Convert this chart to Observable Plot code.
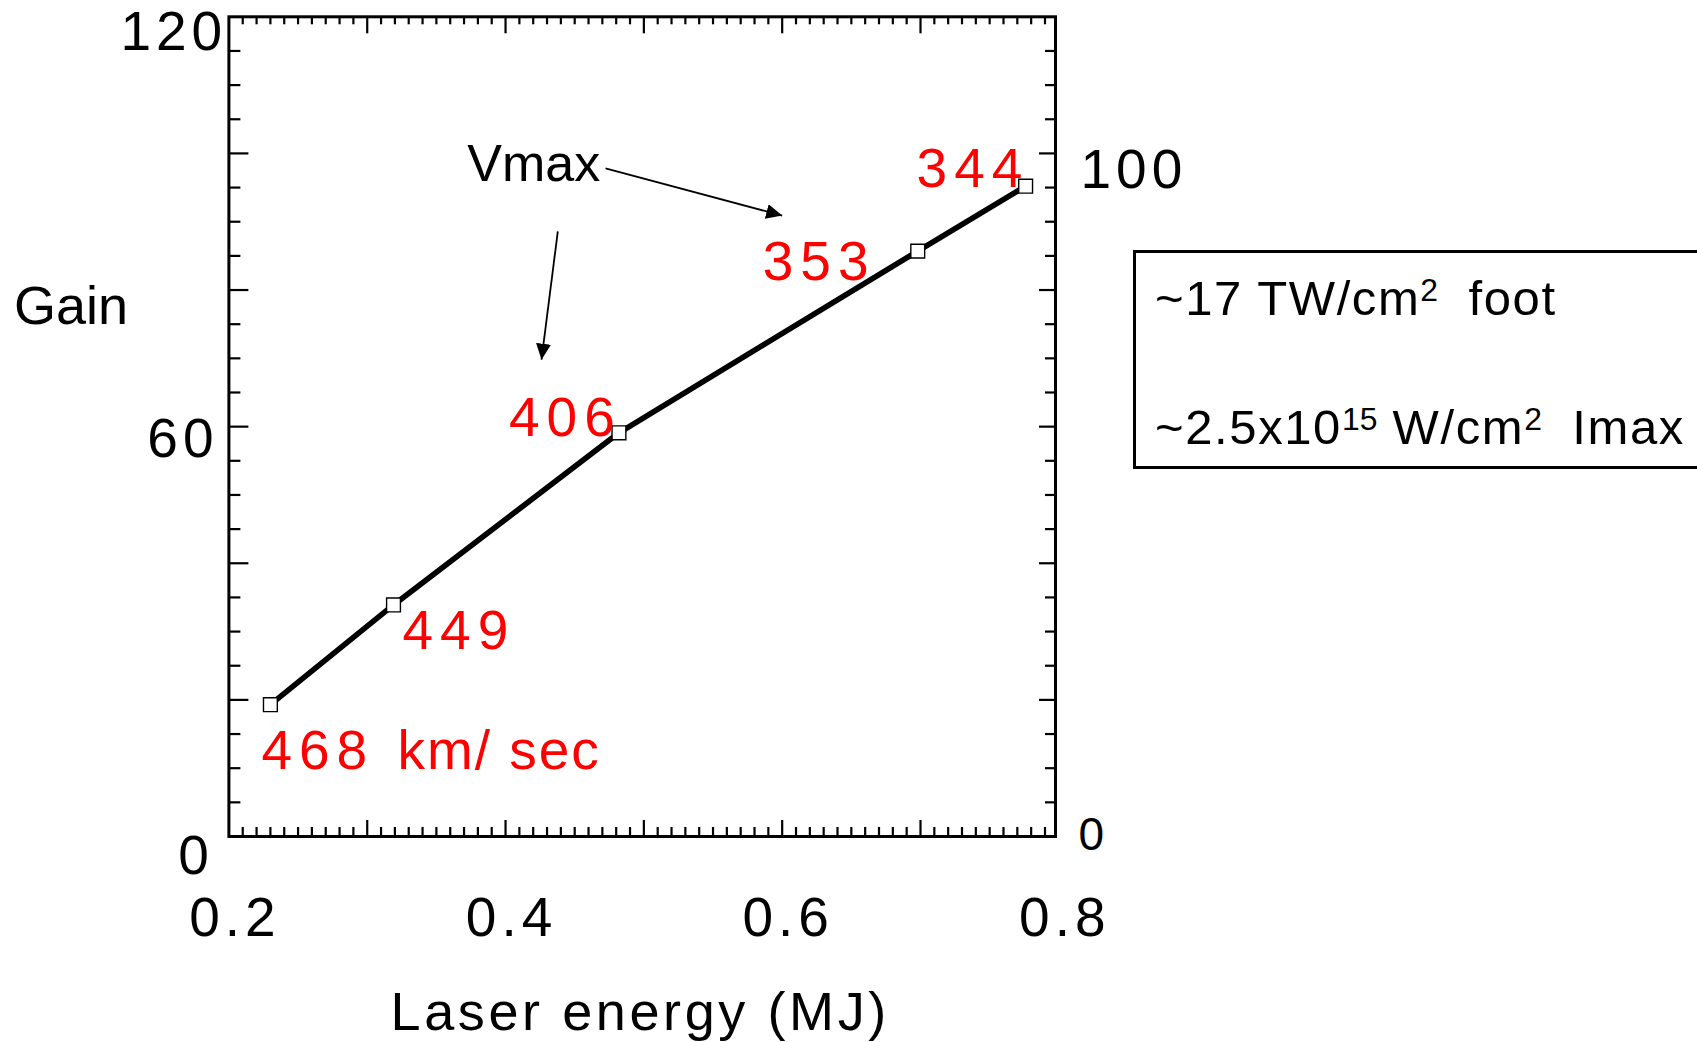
<!DOCTYPE html>
<html>
<head>
<meta charset="utf-8">
<script src="https://cdn.jsdelivr.net/npm/d3@7"></script>
<script src="https://cdn.jsdelivr.net/npm/@observablehq/plot@0.6"></script>
<style>
  html, body { margin: 0; padding: 0; background: #fff; overflow: hidden; }
  #wrap { position: relative; width: 1697px; height: 1042px; }
  #note {
    position: absolute; left: 1133px; top: 250px; width: 700px; height: 213px;
    border: 3px solid #000; background: transparent;
    font-family: 'Liberation Sans', Arial, Helvetica, sans-serif; color: #000;
  }
  #note .row { position: absolute; left: 19px; white-space: nowrap; font-size: 49px; line-height: 49px; letter-spacing: 1.6px; }
  #note .sup { font-size: 0.65em; vertical-align: 0.45em; letter-spacing: 0; }
</style>
</head>
<body>
<div id="wrap"></div>
<script>
// Gain vs. laser energy; each point is tagged with its peak implosion velocity
const energy = [0.23, 0.319, 0.482, 0.698, 0.776];   // MJ
const gain = [19.3, 33.9, 59.1, 85.7, 95.2];
const vmax = [468, 449, 406, 353, 344];               // km/s
const unitLabel = "km/ sec";

// axis labelling
const xTickLabels = [0.2, 0.4, 0.6, 0.8];
const xMajorTicks = [0.3, 0.4, 0.5, 0.6, 0.7];
const xMinorTicks = d3.range(21, 80).filter(i => i % 10 !== 0).map(i => i / 100);
const yMajorTicks = [20, 40, 60, 80, 100];
const yMinorTicks = d3.range(5, 120, 5).filter(v => v % 20 !== 0);
const xTitle = "Laser energy (MJ)";
const yTitle = "Gain";

// "Vmax" callout: text anchor and the two arrows (energy, gain units)
const calloutText = "Vmax";
const calloutAt = {energy: 0.3723, gain: 96.0};
const calloutArrows = [
  {x1: 0.4723, y1: 97.8, x2: 0.600, y2: 90.9},
  {x1: 0.4378, y1: 88.6, x2: 0.426, y2: 69.8}
];

const W = 1697, H = 1042;
const mL = 228.4, mR = 642, mT = 16.3, mB = 206;
const fw = W - mL - mR, fh = H - mT - mB;
const font = "'Liberation Sans', Arial, Helvetica, sans-serif";
const red = "#ff0000";

const points = energy.map((e, i) => ({energy: e, gain: gain[i], v: vmax[i]}));

const tickStyle = {stroke: "black", strokeWidth: 2.2};

// per-point placement of the velocity labels (pixels from the marker)
const labelOffsets = [[-9, 64], [9, 44], [-110, 3], [-155, 29], [-109, 1]];

const velocityLabels = points.map((p, i) => Plot.text([p], {
  x: "energy", y: "gain", text: d => String(d.v),
  dx: labelOffsets[i][0], dy: labelOffsets[i][1],
  textAnchor: "start", lineAnchor: "bottom",
  fill: red, fontSize: 55, ariaDescription: "ls7"
}));

const leftLabels = [[120, -1.7, 32.7], [60, -10.4, 30.8], [0, -15.1, 37.3]].map(([v, dx, dy]) =>
  Plot.text([v], {y: d => d, frameAnchor: "left", textAnchor: "end", lineAnchor: "bottom",
    text: d => String(d), dx, dy, fontSize: 55, fill: "black", ariaDescription: "ls5"}));

const chart = Plot.plot({
  width: W, height: H,
  marginLeft: mL, marginRight: mR, marginTop: mT, marginBottom: mB,
  x: {domain: [0.2, 0.7976], axis: null},
  y: {domain: [0, 120], axis: null},
  style: {fontFamily: font, background: "white", overflow: "visible"},
  marks: [
    // inward ticks on all four sides
    Plot.tickX(xMinorTicks, {x: d => d, insetTop: fh - 9, ...tickStyle}),
    Plot.tickX(xMajorTicks, {x: d => d, insetTop: fh - 16, ...tickStyle}),
    Plot.tickX(xMinorTicks, {x: d => d, insetBottom: fh - 8, ...tickStyle}),
    Plot.tickX(xMajorTicks, {x: d => d, insetBottom: fh - 17, ...tickStyle}),
    Plot.tickY(yMinorTicks, {y: d => d, insetRight: fw - 12, ...tickStyle}),
    Plot.tickY(yMajorTicks, {y: d => d, insetRight: fw - 20, ...tickStyle}),
    Plot.tickY(yMinorTicks, {y: d => d, insetLeft: fw - 10, ...tickStyle}),
    Plot.tickY(yMajorTicks, {y: d => d, insetLeft: fw - 16, ...tickStyle}),
    Plot.frame({stroke: "black", strokeWidth: 3}),

    // gain curve
    Plot.line(points, {x: "energy", y: "gain", stroke: "black", strokeWidth: 5.6}),
    Plot.dot(points, {x: "energy", y: "gain", symbol: "square", r: 7.8,
      fill: "white", stroke: "black", strokeWidth: 1.4}),

    // velocity annotations
    ...velocityLabels,
    Plot.text([points[0]], {x: "energy", y: "gain", text: () => unitLabel, dx: 127, dy: 64,
      textAnchor: "start", lineAnchor: "bottom", fill: red, fontSize: 55, ariaDescription: "ls2"}),

    // Vmax callout
    Plot.text([calloutAt], {x: "energy", y: "gain", text: () => calloutText,
      textAnchor: "start", lineAnchor: "bottom", fontSize: 52, fill: "black"}),
    Plot.link(calloutArrows, {x1: "x1", y1: "y1", x2: "x2", y2: "y2",
      stroke: "black", strokeWidth: 1.8, ariaDescription: "vmax-arrow"}),

    // tick labels
    Plot.text(xTickLabels, {x: d => d, frameAnchor: "bottom", text: d => d.toFixed(1),
      textAnchor: "middle", lineAnchor: "bottom", dx: 6, dy: 99, fontSize: 55,
      fill: "black", ariaDescription: "ls5"}),
    ...leftLabels,
    Plot.text([100], {y: d => d, frameAnchor: "right", text: d => String(d),
      textAnchor: "start", lineAnchor: "bottom", dx: 25, dy: 35, fontSize: 55,
      fill: "black", ariaDescription: "ls5"}),
    Plot.text([0], {y: d => d, frameAnchor: "right", text: d => String(d),
      textAnchor: "start", lineAnchor: "bottom", dx: 23, dy: 13, fontSize: 46, fill: "black"}),

    // axis titles
    Plot.text([yTitle], {frameAnchor: "top-left", text: d => d, textAnchor: "start",
      lineAnchor: "bottom", dx: -215, dy: 307, fontSize: 54, fill: "black"}),
    Plot.text([xTitle], {frameAnchor: "bottom", text: d => d, textAnchor: "middle",
      lineAnchor: "bottom", dx: -2, dy: 193, fontSize: 54, fill: "black", ariaDescription: "ls35"})
  ]
});

// letter spacing for the spaced-out labels
const svg = d3.select(chart);
for (const [key, value] of [["ls2", "2px"], ["ls35", "3.6px"], ["ls5", "5px"], ["ls7", "7px"]]) {
  svg.selectAll(`g[aria-description="${key}"] text`).style("letter-spacing", value);
}

// filled arrowheads for the callout
svg.append("defs").append("marker")
  .attr("id", "vhead").attr("viewBox", "0 -8 16 16")
  .attr("refX", 16).attr("refY", 0)
  .attr("markerWidth", 16).attr("markerHeight", 16)
  .attr("markerUnits", "userSpaceOnUse").attr("orient", "auto")
  .append("path").attr("d", "M0,-7.5L16,0L0,7.5Z").attr("fill", "black");
svg.selectAll('g[aria-description="vmax-arrow"] path, g[aria-description="vmax-arrow"] line')
  .attr("marker-end", "url(#vhead)");

const wrap = document.getElementById("wrap");
wrap.appendChild(chart);

// intensity note box
const note = document.createElement("div");
note.id = "note";
note.innerHTML =
  '<div class="row" style="top:13px">~17 TW/cm<span class="sup">2</span>&nbsp; foot</div>' +
  '<div class="row" style="top:142px">~2.5x10<span class="sup">15</span> W/cm<span class="sup">2</span>&nbsp; Imax</div>';
wrap.appendChild(note);
</script>
</body>
</html>
